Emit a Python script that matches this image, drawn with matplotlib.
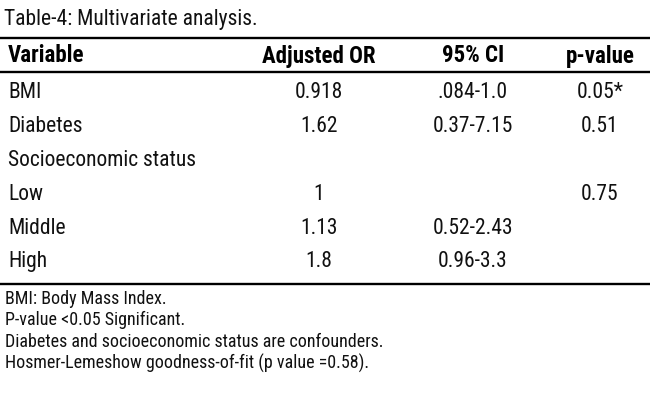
import matplotlib
matplotlib.use("Agg")
import matplotlib.pyplot as plt
from matplotlib import font_manager

# table content
title = "Table-4: Multivariate analysis."
headers = ["Variable", "Adjusted OR", "95% CI", "p-value"]
variables = ["BMI", "Diabetes", "Socioeconomic status", "Low", "Middle", "High"]
adjusted_or = ["0.918", "1.62", "", "1", "1.13", "1.8"]
ci_95 = [".084-1.0", "0.37-7.15", "", "", "0.52-2.43", "0.96-3.3"]
p_values = ["0.05*", "0.51", "", "0.75", "", ""]
footnotes = [
    "BMI: Body Mass Index.",
    "P-value <0.05 Significant.",
    "Diabetes and socioeconomic status are confounders.",
    "Hosmer-Lemeshow goodness-of-fit (p value =0.58).",
]

# the original uses a tall condensed face, Roboto Condensed is the nearest one here
names = {f.name for f in font_manager.fontManager.ttflist}
condensed = [f for f in ("Roboto Condensed", "Liberation Sans Narrow") if f in names]
plt.rcParams["font.family"] = condensed + ["DejaVu Sans"]
plt.rcParams["font.stretch"] = "condensed"

fig = plt.figure(figsize=(6.5, 4.1), dpi=100)
ax = fig.add_axes([0, 0, 1, 1])
ax.set_xlim(0, 650)
ax.set_ylim(410, 0)
ax.axis("off")

ink = "#111111"
body_fs = 15.5
head_fs = 16.5
foot_fs = 13

col_x = [8, 319, 473, 600]
col_ha = ["left", "center", "center", "center"]

ax.text(4, 24.5, title, fontsize=body_fs, va="baseline", ha="left", color=ink)

# horizontal rules: top, under header, bottom
for y in [38.5, 73, 284.5]:
    ax.plot([0, 650], [y, y], color="black", lw=1.7, solid_capstyle="butt")

for x, ha, h in zip(col_x, col_ha, headers):
    ax.text(x, 62.5, h, fontsize=head_fs, fontweight="bold", va="baseline", ha=ha, color="black")

row_base = [98.5, 132.5, 166.5, 200, 234, 267.5]
for i, y in enumerate(row_base):
    cells = [variables[i], adjusted_or[i], ci_95[i], p_values[i]]
    for x, ha, c in zip(col_x, col_ha, cells):
        ax.text(x, y, c, fontsize=body_fs, va="baseline", ha=ha, color=ink)

foot_base = [304, 325.5, 347, 368.5]
for y, t in zip(foot_base, footnotes):
    ax.text(5, y, t, fontsize=foot_fs, va="baseline", ha="left", color=ink)

fig.savefig("out.png", dpi=100)
